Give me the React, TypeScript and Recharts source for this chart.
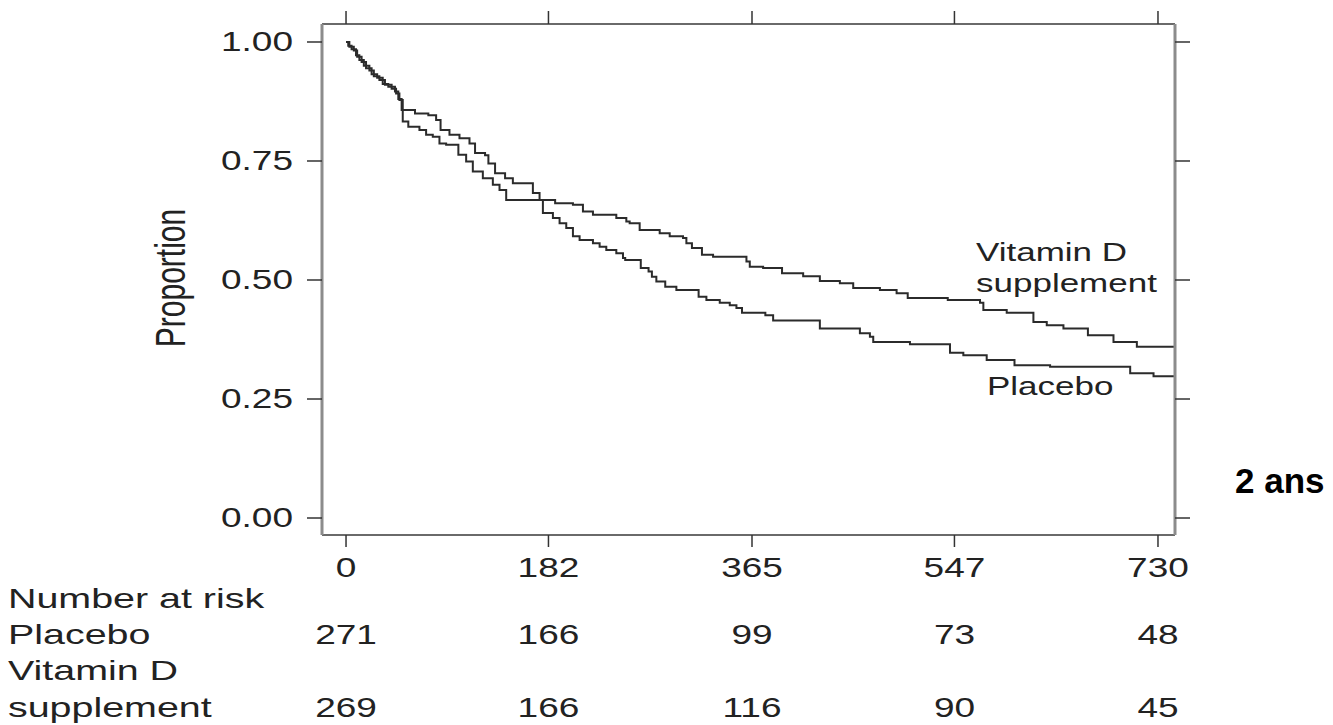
import { LineChart, Line, XAxis, YAxis } from "recharts";

const FONT = '"Liberation Sans", Arial, Helvetica, sans-serif';

// Kaplan-Meier steps (days, proportion)
const placeboDays = [0, 3, 7, 10, 14, 18, 23, 28, 33, 38, 44, 47, 50, 62, 74, 81, 85, 93, 102, 111, 116, 125, 128, 134, 143, 150, 168, 174, 177, 186, 192, 198, 204, 210, 222, 228, 234, 243, 249, 251, 265, 272, 275, 279, 287, 297, 317, 324, 336, 345, 351, 356, 377, 384, 426, 462, 471, 474, 507, 543, 555, 576, 601, 633, 705, 726, 745];
const placeboSurv = [1.0, 0.99, 0.982, 0.969, 0.958, 0.945, 0.932, 0.925, 0.912, 0.906, 0.896, 0.88, 0.857, 0.85, 0.846, 0.836, 0.815, 0.805, 0.798, 0.787, 0.767, 0.762, 0.745, 0.724, 0.714, 0.703, 0.683, 0.668, 0.641, 0.63, 0.619, 0.609, 0.592, 0.584, 0.577, 0.57, 0.563, 0.556, 0.546, 0.542, 0.525, 0.518, 0.507, 0.497, 0.486, 0.479, 0.465, 0.458, 0.452, 0.447, 0.441, 0.431, 0.426, 0.415, 0.398, 0.388, 0.381, 0.37, 0.365, 0.347, 0.342, 0.332, 0.321, 0.318, 0.304, 0.298, 0.298];

const vitDDays = [0, 2, 5, 9, 12, 16, 21, 25, 30, 35, 41, 45, 48, 51, 56, 66, 72, 78, 84, 90, 101, 108, 114, 123, 132, 138, 144, 188, 204, 213, 222, 243, 252, 255, 264, 282, 291, 303, 306, 311, 320, 330, 360, 363, 375, 392, 411, 426, 444, 456, 480, 495, 505, 541, 570, 573, 594, 618, 630, 645, 667, 690, 711, 745];
const vitDSurv = [1.0, 0.992, 0.985, 0.972, 0.962, 0.95, 0.94, 0.928, 0.92, 0.91, 0.902, 0.892, 0.878, 0.833, 0.822, 0.815, 0.805, 0.801, 0.787, 0.784, 0.763, 0.749, 0.728, 0.714, 0.7, 0.689, 0.668, 0.661, 0.658, 0.644, 0.637, 0.63, 0.623, 0.619, 0.605, 0.598, 0.592, 0.588, 0.577, 0.567, 0.553, 0.549, 0.539, 0.528, 0.525, 0.514, 0.508, 0.498, 0.493, 0.483, 0.479, 0.472, 0.462, 0.458, 0.452, 0.437, 0.431, 0.412, 0.405, 0.398, 0.384, 0.37, 0.36, 0.36];

const tickDays = [0, 182, 365, 547, 730];
const yTicks = [0, 0.25, 0.5, 0.75, 1];
const riskPlacebo = [271, 166, 99, 73, 48];
const riskVitD = [269, 166, 116, 90, 45];

const placeboData = placeboDays.map((d, i) => ({ day: d, s: placeboSurv[i] }));
const vitDData = vitDDays.map((d, i) => ({ day: d, s: vitDSurv[i] }));

const xDomain = [-21.6, 745.3];
const yDomain = [-0.0357, 1.0378];

function Stretched({ x, y, sx, size, anchor, children, weight }: any) {
  return (
    <g transform={`translate(${x},${y}) scale(${sx},1)`}>
      <text x={0} y={0} textAnchor={anchor || "start"} fontSize={size} fontFamily={FONT} fill="#222" fontWeight={weight || "normal"}>
        {children}
      </text>
    </g>
  );
}

function LeftTick(props: any) {
  const { x, y, payload } = props;
  return (
    <Stretched x={x} y={y + 9} sx={1.37} size={27} anchor="end">
      {Number(payload.value).toFixed(2)}
    </Stretched>
  );
}

function BottomTick(props: any) {
  const { x, y, payload } = props;
  const i = tickDays.indexOf(payload.value);
  return (
    <g>
      <Stretched x={x} y={y + 30} sx={1.37} size={27} anchor="middle">{payload.value}</Stretched>
      <Stretched x={x} y={y + 97} sx={1.37} size={27} anchor="middle">{riskPlacebo[i]}</Stretched>
      <Stretched x={x} y={y + 170} sx={1.37} size={27} anchor="middle">{riskVitD[i]}</Stretched>
    </g>
  );
}

// tick marks only, no labels (top and right sides of the box)
const NoLabel = () => <g />;

export default function App() {
  return (
    <div style={{ position: "absolute", left: 0, top: 0, width: 1333, height: 725, background: "#fff" }}>
      <LineChart width={1333} height={725} margin={{ top: 10, right: 128, bottom: 150, left: 262 }}>
        <XAxis
          xAxisId="bottom"
          dataKey="day"
          type="number"
          domain={xDomain}
          ticks={tickDays}
          interval={0}
          allowDataOverflow
          height={40}
          tickSize={12}
          tickMargin={0}
          axisLine={{ stroke: "#6a6a6a", strokeWidth: 2 }}
          tickLine={{ stroke: "#333", strokeWidth: 1.5 }}
          tick={(p: any) => <BottomTick {...p} />}
        />
        <XAxis
          xAxisId="top"
          orientation="top"
          dataKey="day"
          type="number"
          domain={xDomain}
          ticks={tickDays}
          interval={0}
          allowDataOverflow
          height={14}
          tickSize={13}
          axisLine={{ stroke: "#6a6a6a", strokeWidth: 2 }}
          tickLine={{ stroke: "#333", strokeWidth: 1.5 }}
          tick={(p: any) => <NoLabel {...p} />}
        />
        <YAxis
          yAxisId="left"
          type="number"
          domain={yDomain}
          ticks={yTicks}
          interval={0}
          allowDataOverflow
          width={60}
          tickSize={15}
          tickMargin={14}
          axisLine={{ stroke: "#8c8c8c", strokeWidth: 3 }}
          tickLine={{ stroke: "#333", strokeWidth: 1.5 }}
          tick={(p: any) => <LeftTick {...p} />}
        />
        <YAxis
          yAxisId="right"
          orientation="right"
          type="number"
          domain={yDomain}
          ticks={yTicks}
          interval={0}
          allowDataOverflow
          width={30}
          tickSize={15}
          axisLine={{ stroke: "#8c8c8c", strokeWidth: 3 }}
          tickLine={{ stroke: "#333", strokeWidth: 1.5 }}
          tick={(p: any) => <NoLabel {...p} />}
        />
        <Line xAxisId="bottom" yAxisId="left" data={placeboData} dataKey="s" type="stepAfter" stroke="#2b2b2b" strokeWidth={2} dot={false} isAnimationActive={false} />
        <Line xAxisId="bottom" yAxisId="left" data={vitDData} dataKey="s" type="stepAfter" stroke="#2b2b2b" strokeWidth={2} dot={false} isAnimationActive={false} />
      </LineChart>
      <svg width={1333} height={725} style={{ position: "absolute", left: 0, top: 0, pointerEvents: "none" }}>
        <g transform="translate(185,278) scale(1.4,1) rotate(-90)">
          <text x={0} y={0} textAnchor="middle" fontSize={30} fontFamily={FONT} fill="#222">Proportion</text>
        </g>
        <Stretched x={976} y={261} sx={1.4} size={25}>Vitamin D</Stretched>
        <Stretched x={976} y={292} sx={1.4} size={25}>supplement</Stretched>
        <Stretched x={987} y={395} sx={1.4} size={25}>Placebo</Stretched>
        <Stretched x={8} y={608} sx={1.46} size={27}>Number at risk</Stretched>
        <Stretched x={8} y={644} sx={1.46} size={27}>Placebo</Stretched>
        <Stretched x={8} y={680} sx={1.46} size={27}>Vitamin D</Stretched>
        <Stretched x={8} y={717} sx={1.46} size={27}>supplement</Stretched>
        <text x={1235} y={493} fontSize={35} fontWeight="bold" fontFamily={FONT} fill="#000">2 ans</text>
      </svg>
    </div>
  );
}
